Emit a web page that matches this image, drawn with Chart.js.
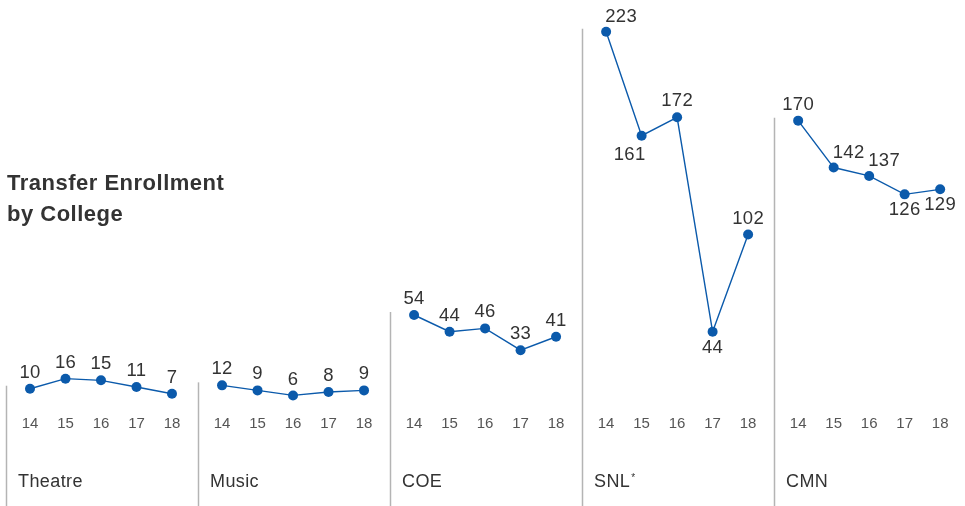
<!DOCTYPE html>
<html>
<head>
<meta charset="utf-8">
<script src="https://cdn.jsdelivr.net/npm/chart.js@4"></script>
<style>
  body { margin: 0; background: #fff; }
  #wrap { position: relative; width: 965px; height: 506px; }
  #title {
    position: absolute; left: 7px; top: 167px;
    font: bold 22px "Liberation Sans", Arial, sans-serif;
    color: #333; line-height: 31px; letter-spacing: 0.5px;
  }
</style>
</head>
<body>
<div id="wrap">
  <canvas id="myChart" width="965" height="506"></canvas>
  <div id="title">Transfer Enrollment<br>by College</div>
</div>
<script>
colleges = ['Theatre', 'Music', 'COE', 'SNL', 'CMN']
years = ['14', '15', '16', '17', '18']

var theatre = [10, 16, 15, 11, 7]
var music = [12, 9, 6, 8, 9]
var coe = [54, 44, 46, 33, 41]
var snl = [223, 161, 172, 44, 102]
var cmn = [170, 142, 137, 126, 129]
var series = [theatre, music, coe, snl, cmn]

// where each value label sits relative to its point
var labelSide = [
  ['up', 'up', 'up', 'up', 'up'],
  ['up', 'up', 'up', 'up', 'up'],
  ['up', 'up', 'up', 'up', 'up'],
  ['upRight', 'downLeft', 'up', 'down', 'up'],
  ['up', 'upRight', 'upRight', 'down', 'down']
]

const GROUP = 5.41   // x units per college panel
const BLUE = '#0b5aab'
const FONT = '"Liberation Sans", Arial, sans-serif'

var offsets = {
  up: [0, -16],
  down: [0, 16],
  upRight: [15, -15],
  downLeft: [-12, 19]
}

var datasets = []
series.forEach((vals, g)=>{
  datasets.push({
    label: colleges[g],
    data: vals.map((v, j)=>({x: g * GROUP + j, y: v})),
    borderColor: BLUE,
    borderWidth: 1.4,
    backgroundColor: BLUE,
    pointBackgroundColor: BLUE,
    pointBorderWidth: 0,
    pointRadius: 5,
    tension: 0,
    clip: false
  })
})

// separators, year ticks, panel names and value labels
const panelDecor = {
  id: 'panelDecor',
  afterDatasetsDraw(chart) {
    const ctx = chart.ctx
    const xs = chart.scales.x
    const ys = chart.scales.y
    ctx.save()
    series.forEach((vals, g)=>{
      const base = g * GROUP
      // separator
      const sx = Math.round(xs.getPixelForValue(base - 0.68)) + 0.5
      ctx.strokeStyle = '#b4b4b4'
      ctx.lineWidth = 1.5
      ctx.beginPath()
      ctx.moveTo(sx, ys.getPixelForValue(vals[0]) - 3)
      ctx.lineTo(sx, 506)
      ctx.stroke()

      // year ticks
      ctx.fillStyle = '#555'
      ctx.font = '15px ' + FONT
      ctx.textAlign = 'center'
      ctx.textBaseline = 'middle'
      years.forEach((yr, j)=>{
        ctx.fillText(yr, xs.getPixelForValue(base + j), 424)
      })

      // panel name
      ctx.fillStyle = '#333'
      ctx.font = '18px ' + FONT
      ctx.textAlign = 'left'
      ctx.textBaseline = 'alphabetic'
      ctx.letterSpacing = '0.4px'
      ctx.fillText(colleges[g], sx + 11.5, 487)
      if (colleges[g] === 'SNL') {
        const w = ctx.measureText('SNL').width
        ctx.font = '10px ' + FONT
        ctx.fillText('*', sx + 11.5 + w + 1, 481)
      }

      // value labels
      ctx.fillStyle = '#333'
      ctx.font = '18.5px ' + FONT
      ctx.textAlign = 'center'
      ctx.textBaseline = 'middle'
      ctx.letterSpacing = '0.3px'
      vals.forEach((v, j)=>{
        const off = offsets[labelSide[g][j]]
        ctx.fillText(String(v), xs.getPixelForValue(base + j) + off[0], ys.getPixelForValue(v) + off[1])
      })
      ctx.letterSpacing = '0px'
    })
    ctx.restore()
  }
}

var ctx = document.getElementById('myChart')
var line = new Chart(ctx, {
  type: 'line',
  data: { datasets: datasets },
  options: {
    responsive: false,
    animation: false,
    events: [],
    layout: { padding: 0, autoPadding: false },
    scales: {
      x: { type: 'linear', display: false, min: -0.845, max: 26.34 },
      y: { display: false, min: -60, max: 242.0 }
    },
    plugins: {
      legend: { display: false },
      tooltip: { enabled: false }
    }
  },
  plugins: [panelDecor]
})
</script>
</body>
</html>
